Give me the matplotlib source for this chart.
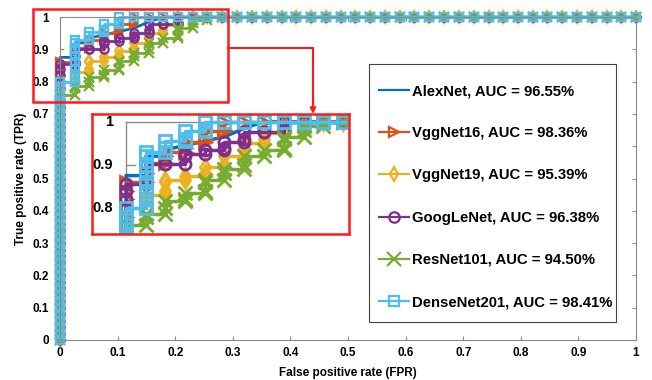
import matplotlib
matplotlib.use('Agg')
import matplotlib.pyplot as plt
from matplotlib.patches import Rectangle, FancyArrowPatch
from matplotlib.lines import Line2D

plt.rcParams['font.family'] = ['Liberation Sans', 'DejaVu Sans']
plt.rcParams['font.weight'] = 'bold'

# false positive rates of the test thresholds (one step per negative sample)
fpr_grid = [0.000, 0.026, 0.051, 0.077, 0.103, 0.128, 0.154, 0.179, 0.205, 0.231,
            0.256, 0.282, 0.308, 0.333, 0.359, 0.385, 0.410, 0.436, 0.462, 0.487,
            0.513, 0.538, 0.564, 0.590, 0.615, 0.641, 0.667, 0.692, 0.718, 0.744,
            0.769, 0.795, 0.821, 0.846, 0.872, 0.897, 0.923, 0.949, 0.974, 1.000]
# true positive rate levels seen as markers along the vertical steps
tpr_levels = [0.00, 0.02, 0.04, 0.06, 0.08, 0.10, 0.12, 0.14, 0.16, 0.18,
              0.20, 0.22, 0.24, 0.26, 0.28, 0.30, 0.32, 0.34, 0.36, 0.38,
              0.40, 0.42, 0.44, 0.46, 0.48, 0.50, 0.52, 0.54, 0.56, 0.58,
              0.60, 0.62, 0.64, 0.66, 0.68, 0.70, 0.72, 0.74, 0.76, 0.78,
              0.80, 0.82, 0.84, 0.86, 0.88, 0.90, 0.92, 0.94, 0.96, 0.98, 1.00]

# AlexNet is drawn as a plain line
alex_fpr = [0.0, 0.0, 0.026, 0.026, 0.051, 0.051, 0.077, 0.128, 0.154, 0.179, 1.0]
alex_tpr = [0.0, 0.875, 0.875, 0.92, 0.92, 0.935, 0.945, 0.965, 0.985, 1.0, 1.0]

# TPR reached at each FPR step, until 1
vgg16_tops = [0.86, 0.905, 0.93, 0.952, 0.979, 1.0]
vgg19_tops = [0.80, 0.83, 0.865, 0.875, 0.895, 0.92, 0.95, 0.975, 1.0]
google_tops = [0.855, 0.902, 0.902, 0.925, 0.935, 0.952, 0.977, 0.977, 1.0]
resnet_tops = [0.76, 0.785, 0.815, 0.835, 0.865, 0.89, 0.92, 0.935, 0.965, 0.99, 1.0]
dense_tops = [0.80, 0.93, 0.955, 0.978, 1.0]

labels = ['AlexNet, AUC = 96.55%', 'VggNet16, AUC = 98.36%', 'VggNet19, AUC = 95.39%',
          'GoogLeNet, AUC = 96.38%', 'ResNet101, AUC = 94.50%', 'DenseNet201, AUC = 98.41%']
colors = ['#0072BD', '#D95319', '#EDB120', '#7E2F8E', '#77AC30', '#4DBEEE']
markers = [None, '>', 'd', 'o', 'x', 's']
tick_vals = [0, 0.1, 0.2, 0.3, 0.4, 0.5, 0.6, 0.7, 0.8, 0.9, 1]
tick_text = ['0', '0.1', '0.2', '0.3', '0.4', '0.5', '0.6', '0.7', '0.8', '0.9', '1']


def roc_points(tops):
    xs, ys = [], []
    prev = 0.0
    for f, top in zip(fpr_grid, tops):
        col = [prev] + [t for t in tpr_levels if prev < t < top] + [top]
        xs += [f] * len(col)
        ys += col
        prev = top
    for f in fpr_grid[len(tops):]:
        xs.append(f)
        ys.append(1.0)
    return xs, ys


curves = [(alex_fpr, alex_tpr)] + [roc_points(t) for t in
                                   [vgg16_tops, vgg19_tops, google_tops, resnet_tops, dense_tops]]

W, H = 652, 380
fig = plt.figure(figsize=(W / 100, H / 100), dpi=100)


def fbox(x0, y0, x1, y1):
    return [x0 / W, 1 - y1 / H, (x1 - x0) / W, (y1 - y0) / H]


def fpt(x, y):
    return (x / W, 1 - y / H)


gray = '#8a8a8a'
red = '#ff1a1a'

ax = fig.add_axes(fbox(60, 17, 636, 340))
handles = []
for (xs, ys), c, m, lab in zip(curves, colors, markers, labels):
    ms = 7.5 if m == 'x' else 6
    h, = ax.plot(xs, ys, color=c, lw=2, marker=m, ms=ms, mfc='none', mew=1.6,
                 clip_on=False, label=lab)
    handles.append(h)
ax.set_xlim(0, 1)
ax.set_ylim(0, 1)
ax.set_xticks(tick_vals)
ax.set_xticklabels(tick_text)
ax.set_yticks(tick_vals)
ax.set_yticklabels(tick_text)
ax.tick_params(direction='in', length=3, color=gray, labelsize=8.5, top=True, right=True)
ax.tick_params(axis='y', pad=8)
ax.tick_params(axis='x', pad=5)
for s in ax.spines.values():
    s.set_color(gray)
    s.set_linewidth(0.8)
ax.set_xlabel('False positive rate (FPR)', fontsize=8.5, fontweight='bold', labelpad=6)
ax.set_ylabel('True positive rate (TPR)', fontsize=8.5, fontweight='bold', labelpad=4)

# magnified copy of the top left corner
axi = fig.add_axes(fbox(92, 114, 349, 234))
axi.plot([0, 0.3], [1, 1], color=gray, lw=1, zorder=0)
axi.plot([0, 0], [0.7, 1], color=gray, lw=1, zorder=0)
axi.plot([0, 0.012], [0.9, 0.9], color=gray, lw=1, zorder=0)
axi.plot([0, 0.012], [0.8, 0.8], color=gray, lw=1, zorder=0)
for (xs, ys), c, m in zip(curves, colors, markers):
    ms = 10 if m == 'x' else 8
    axi.plot(xs, ys, color=c, lw=2.5, marker=m, ms=ms, mfc='none', mew=2)
for v, t in [(1.0, '1'), (0.9, '0.9'), (0.8, '0.8')]:
    axi.text(-0.017, v, t, ha='right', va='center', fontsize=10.5, fontweight='bold')
axi.set_xlim(-0.0443, 0.290)
axi.set_ylim(0.7394, 1.018)
axi.set_xticks([])
axi.set_yticks([])
for s in axi.spines.values():
    s.set_color(red)
    s.set_linewidth(1.8)

# red frame around the original corner and the connector arrow
fig.add_artist(Rectangle(fpt(33, 102), 195 / W, 93 / H, transform=fig.transFigure,
                         fill=False, edgecolor=red, lw=1.8, zorder=3))
fig.add_artist(Line2D([228 / W, 313 / W], [1 - 48 / H, 1 - 48 / H],
                      transform=fig.transFigure, color=red, lw=1.5, zorder=3))
fig.add_artist(FancyArrowPatch(fpt(313, 48), fpt(313, 114), transform=fig.transFigure,
                               arrowstyle='-|>', mutation_scale=8, color=red,
                               lw=1.5, shrinkA=0, shrinkB=0, zorder=3))

# legend with its own frame
fig.add_artist(Rectangle(fpt(369, 322), 247 / W, 258 / H, transform=fig.transFigure,
                         facecolor='white', edgecolor='#444444', lw=0.8, zorder=4))
leg = fig.legend(handles=handles, loc='upper left', bbox_to_anchor=fpt(379, 84),
                 frameon=False, borderpad=0, borderaxespad=0,
                 handlelength=2.0, handletextpad=0.2, labelspacing=1.9, markerscale=1.25,
                 prop={'weight': 'bold', 'size': 10.7})
for lh in leg.get_lines():
    lh.set_linewidth(1.6)

fig.savefig('out.png', dpi=100)
